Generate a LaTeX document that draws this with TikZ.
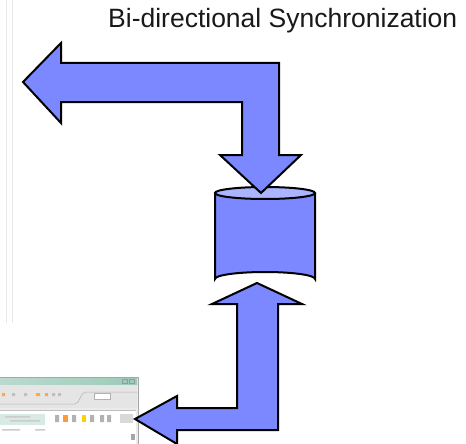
\documentclass[tikz,border=0pt]{standalone}
\usepackage{fontspec}
\setmainfont{Liberation Sans}
\begin{document}
\begin{tikzpicture}[x=1pt,y=-1pt,
  blockarrow/.style={draw=black,line width=2pt,fill=arrowblue,line join=miter},
  faint/.style={draw=black!9,line width=1pt}]
\definecolor{arrowblue}{HTML}{7B88FF}
\definecolor{toplight}{HTML}{AAB4FF}
\definecolor{teal}{HTML}{9CCBB8}
\useasboundingbox (0,0) rectangle (466,444);
% faint background lines
\draw[faint] (6,0) -- (6,323);
\draw[faint] (12,0) -- (12,323);
% screenshot thumbnail
\fill[black!8] (0,377) rectangle (139,444);
\shade[left color=teal!70,right color=teal] (0,377) rectangle (137,385);
\fill[black!10] (0,385) rectangle (137,408);
\draw[black!35,line width=0.6pt] (0,377) -- (138,377) -- (138,444);
\draw[black!40,line width=0.5pt] (122,379) rectangle (127,383) (129,379) rectangle (134,383);
\draw[black!30,line width=0.5pt] (0,404) -- (75,404) .. controls (80,404) and (80,392) .. (86,392) -- (137,392);
\node[fill=white,draw=black!30,inner sep=0pt,minimum width=16pt,minimum height=6pt] (persp) at (102,396) {};
\fill[orange!70] (2,393) rectangle (5,396) (36,393) rectangle (40,396) (45,393) rectangle (48,396);
\fill[black!25] (12,393) rectangle (15,396) (24,393) rectangle (27,396) (52,393) rectangle (55,396) (58,393) rectangle (61,396);
\fill[white] (0,410) rectangle (136,444);
\draw[black!25,line width=0.5pt] (0,410) -- (136,410);
\fill[teal!40] (0,414) rectangle (45,425);
\fill[black!20] (5,416) rectangle (30,417.5) (10,420) rectangle (40,421.5) (2,429) rectangle (20,430.5) (35,429) rectangle (45,430.5);
\fill[orange!80] (63,415) rectangle (68,422);
\fill[black!30] (55,415) rectangle (59,422) (72,415) rectangle (76,422) (90,415) rectangle (94,422) (100,415) rectangle (104,422) (107,415) rectangle (111,422);
\fill[yellow!70!orange] (82,415) rectangle (86,422);
\fill[black!15] (120,414) rectangle (133,423);
\fill[black!35] (131,434) rectangle (135,440);
% cylinder
\draw[blockarrow] (215,193) -- (215,279) arc[start angle=180,end angle=360,x radius=50,y radius=7] -- (315,193);
\draw[draw=black,line width=2pt,fill=toplight] (265,193) ellipse[x radius=50,y radius=6];
% top arrow
\draw[blockarrow] (23,82) -- (61,43) -- (61,63) -- (279,63) -- (279,155) -- (301,155) -- (261,193)
  -- (220,155) -- (242,155) -- (242,102) -- (61,102) -- (61,123) -- cycle;
% bottom arrow
\draw[blockarrow] (257,283) -- (302,304) -- (278,304) -- (278,430) -- (177,430) -- (177,444) -- (135,419)
  -- (177,396) -- (177,408) -- (237,408) -- (237,304) -- (212,304) -- cycle;
% title
\node[anchor=base west,inner sep=0pt,font=\fontsize{26.5}{30}\selectfont,text=black!90] (title) at (108,28) {Bi-directional Synchronization};
\end{tikzpicture}
\end{document}
